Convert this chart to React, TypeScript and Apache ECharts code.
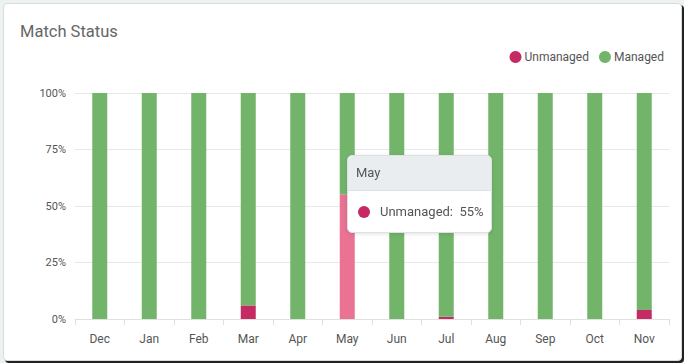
import React, { useEffect, useRef } from "react";
import * as echarts from "echarts";

const categories = ["Dec", "Jan", "Feb", "Mar", "Apr", "May", "Jun", "Jul", "Aug", "Sep", "Oct", "Nov"];
const unmanaged = [0, 0, 0, 6, 0, 55, 0, 1, 0, 0, 0, 4];
const managed = [100, 100, 100, 94, 100, 45, 100, 99, 100, 100, 100, 96];
const yTicks = [0, 25, 50, 75, 100];

const FONT = "Roboto, 'Noto Sans', sans-serif";

export default function App() {
  const ref = useRef<HTMLDivElement>(null);
  useEffect(() => {
    if (!ref.current) return;
    const chart = echarts.init(ref.current, undefined, { renderer: "svg" });
    chart.setOption({
      animation: false,
      textStyle: { fontFamily: FONT },
      title: {
        text: "Match Status",
        left: 15,
        top: 18,
        textStyle: { fontSize: 16.5, fontWeight: "normal", color: "#666", fontFamily: FONT },
      },
      legend: {
        right: 15,
        top: 46,
        icon: "circle",
        itemWidth: 12,
        itemHeight: 12,
        itemGap: 10,
        textStyle: { fontSize: 12, color: "#555", padding: [0, 0, 0, -2] },
        data: ["Unmanaged", "Managed"],
      },
      tooltip: {
        trigger: "item",
        triggerOn: "none",
        alwaysShowContent: true,
        padding: 0,
        borderWidth: 1,
        borderColor: "#dde1e4",
        backgroundColor: "#fff",
        extraCssText: "border-radius:5px;box-shadow:0 1px 4px rgba(0,0,0,0.12);overflow:hidden;",
        position: () => [347, 155],
        formatter: (p: any) =>
          `<div style="font-family:${FONT};width:143px">` +
          `<div style="background:#eaedf0;height:34px;line-height:34px;padding-left:8px;font-size:13px;color:#555;border-bottom:1px solid #dde1e4">${p.name}</div>` +
          `<div style="height:41px;line-height:41px;padding-left:10px;font-size:13px;color:#555">` +
          `<span style="display:inline-block;width:12px;height:12px;border-radius:6px;background:#c62a62;vertical-align:-2px;margin-right:10px"></span>` +
          `${p.seriesName}:&nbsp;&nbsp;${p.value}%</div></div>`,
      },
      grid: { left: 75, right: 15, top: 93, bottom: 44 },
      xAxis: {
        type: "category",
        data: categories,
        boundaryGap: true,
        axisLine: { lineStyle: { color: "#e0e0e0" } },
        axisTick: { show: true, length: 6, lineStyle: { color: "#e0e0e0" } },
        axisLabel: { color: "#555", fontSize: 12, margin: 14 },
      },
      yAxis: {
        type: "value",
        min: 0,
        max: 100,
        interval: 25,
        axisLabel: {
          color: "#555",
          fontSize: 11,
          margin: 9,
          formatter: (v: number) => (yTicks.includes(v) ? `${v}%` : ""),
        },
        axisLine: { show: false },
        axisTick: { show: false },
        splitLine: { lineStyle: { color: "#e8e8e8" } },
      },
      series: [
        {
          name: "Unmanaged",
          type: "bar",
          stack: "total",
          barWidth: 15,
          data: unmanaged,
          itemStyle: { color: "#c62a62" },
          emphasis: { itemStyle: { color: "#ea7393" } },
        },
        {
          name: "Managed",
          type: "bar",
          stack: "total",
          barWidth: 15,
          data: managed,
          itemStyle: { color: "#72b56a" },
          emphasis: { disabled: true },
        },
      ],
    });
    chart.dispatchAction({ type: "highlight", seriesIndex: 0, dataIndex: 5 });
    chart.dispatchAction({ type: "showTip", seriesIndex: 0, dataIndex: 5 });
    return () => chart.dispose();
  }, []);

  return (
    <div style={{ position: "absolute", left: 0, top: 0, width: 684, height: 363, background: "#eef1f1", overflow: "hidden" }}>
      <div
        style={{
          position: "absolute",
          left: 3,
          top: 3,
          width: 677,
          height: 356,
          background: "#fff",
          border: "1px solid #d8dcdc",
          borderRadius: 4,
          boxShadow: "2px 2px 0 #222",
        }}
      />
      <div ref={ref} style={{ position: "absolute", left: 0, top: 0, width: 684, height: 363 }} />
    </div>
  );
}
